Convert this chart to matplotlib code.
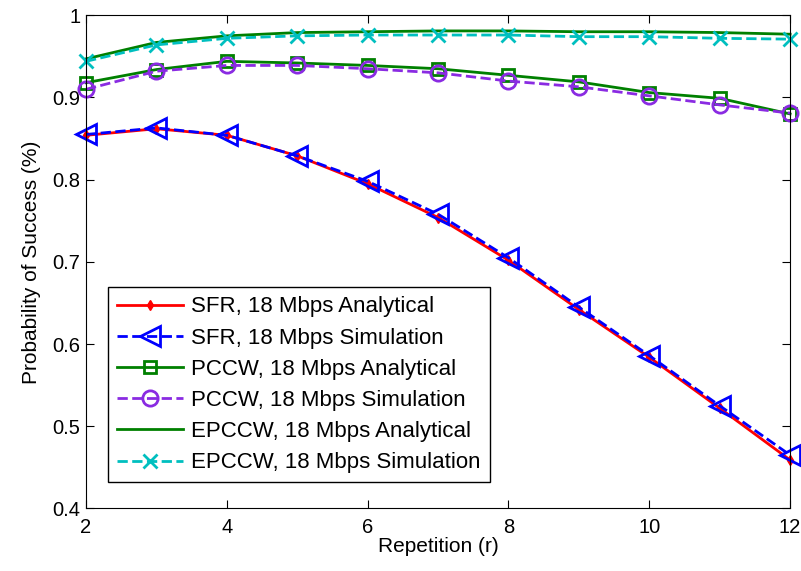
import matplotlib
matplotlib.use("Agg")
import matplotlib.pyplot as plt

plt.rcParams['font.family'] = ['Liberation Sans', 'DejaVu Sans']

# repetition values
r = [2, 3, 4, 5, 6, 7, 8, 9, 10, 11, 12]

sfr_ana = [0.854, 0.862, 0.854, 0.829, 0.795, 0.754, 0.702, 0.642, 0.584, 0.522, 0.459]
sfr_sim = [0.855, 0.863, 0.854, 0.829, 0.798, 0.758, 0.705, 0.645, 0.586, 0.525, 0.465]
pccw_ana = [0.918, 0.934, 0.944, 0.942, 0.939, 0.935, 0.927, 0.919, 0.906, 0.899, 0.880]
pccw_sim = [0.910, 0.932, 0.939, 0.939, 0.935, 0.930, 0.920, 0.913, 0.902, 0.891, 0.881]
epccw_ana = [0.947, 0.967, 0.975, 0.979, 0.980, 0.981, 0.981, 0.980, 0.980, 0.979, 0.977]
epccw_sim = [0.944, 0.964, 0.972, 0.975, 0.976, 0.976, 0.976, 0.974, 0.974, 0.972, 0.971]

labels = ['SFR, 18 Mbps Analytical', 'SFR, 18 Mbps Simulation',
          'PCCW, 18 Mbps Analytical', 'PCCW, 18 Mbps Simulation',
          'EPCCW, 18 Mbps Analytical', 'EPCCW, 18 Mbps Simulation']

fig = plt.figure(figsize=(8.01, 5.71), dpi=100)
ax = fig.add_axes([0.1074, 0.1095, 0.879, 0.8637])

lw = 2.0
ax.plot(r, sfr_ana, '-', color='#ff0000', lw=lw, marker='d', ms=5,
        clip_on=False, label=labels[0])
ax.plot(r, sfr_sim, '--', color='#0000ff', lw=lw, marker='<', ms=15,
        mfc='none', mew=2, clip_on=False, label=labels[1])
ax.plot(r, pccw_ana, '-', color='#008000', lw=lw, marker='s', ms=9,
        mfc='none', mew=2, clip_on=False, label=labels[2])
ax.plot(r, pccw_sim, '--', color='#8a2be2', lw=lw, marker='o', ms=11,
        mfc='none', mew=2, clip_on=False, label=labels[3])
ax.plot(r, epccw_ana, '-', color='#008000', lw=lw, clip_on=False, label=labels[4])
ax.plot(r, epccw_sim, '--', color='#00bfbf', lw=lw, marker='x', ms=10,
        mew=2, clip_on=False, label=labels[5])

ax.set_xlim(2, 12)
ax.set_ylim(0.4, 1.0)
ax.set_xticks([2, 4, 6, 8, 10, 12])
ax.set_yticks([0.4, 0.5, 0.6, 0.7, 0.8, 0.9, 1.0])
ax.set_yticklabels(['0.4', '0.5', '0.6', '0.7', '0.8', '0.9', '1'])
ax.tick_params(direction='in', top=True, right=True, labelsize=14.5, length=6)
ax.tick_params(axis='x', pad=7)
ax.tick_params(axis='y', pad=4)
ax.set_xlabel('Repetition (r)', fontsize=15, labelpad=0)
ax.set_ylabel('Probability of Success (%)', fontsize=15, labelpad=8)

leg = ax.legend(loc='lower left', bbox_to_anchor=(0.031, 0.053), fontsize=16,
                fancybox=False, edgecolor='black', framealpha=1,
                handlelength=3.0, handletextpad=0.36, borderpad=0.4,
                borderaxespad=0, labelspacing=0.46)
leg.get_frame().set_linewidth(1.0)

fig.savefig('out.png', dpi=100)
